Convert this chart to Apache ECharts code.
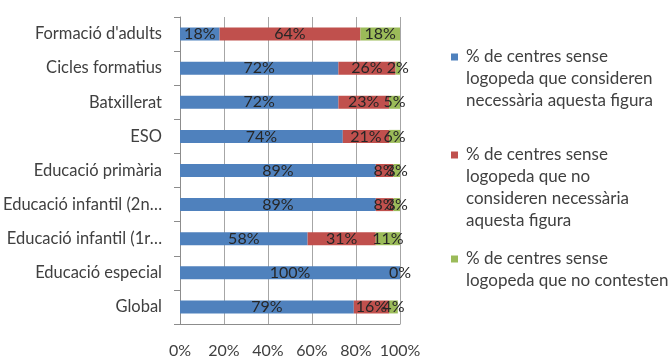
<!DOCTYPE html>
<html>
<head>
<meta charset="utf-8">
<script src="https://cdn.jsdelivr.net/npm/echarts@6/dist/echarts.min.js"></script>
<style>
	html, body { margin: 0; padding: 0; background: #fff; }
	#chart { width: 672px; height: 358px; }
</style>
</head>
<body>
<div id="chart"></div>
<script>
var categories = ["Formació d'adults", "Cicles formatius", "Batxillerat", "ESO", "Educació primària",
	"Educació infantil (2n…", "Educació infantil (1r…", "Educació especial", "Global"];
var seriesNames = ["considera", "noConsidera", "noContesta"];
var legendTexts = [
	"% de centres sense\nlogopeda que consideren\nnecessària aquesta figura",
	"% de centres sense\nlogopeda que no\nconsideren necessària\naquesta figura",
	"% de centres sense\nlogopeda que no contesten"
];
var blueVals = [18, 72, 72, 74, 89, 89, 58, 100, 79];
var redVals = [64, 26, 23, 21, 8, 8, 31, 0, 16];
var greenVals = [18, 2, 5, 6, 3, 3, 11, 0, 4];
var xTicks = [0, 20, 40, 60, 80, 100];

var colors = ["#4f81bd", "#c0504d", "#9bbb59"];
var font = "Lato";
var txt = "#404040";

// legend text is centred on the icon -> put blank lines in front so the icon sits on the first line
function padLines(s) {
	var n = s.split("\n").length;
	var out = s;
	for (var k = 1; k < n; k++) out = " \n" + out;
	return out;
}
var legendTops = [2, 78, 226];

var chart = echarts.init(document.getElementById("chart"));
var vals = [blueVals, redVals, greenVals];

chart.setOption({
	animation: false,
	color: colors,
	grid: { left: 180, right: 272, top: 17, height: 307, containLabel: false, outerBoundsMode: "none" },
	legend: seriesNames.map(function(n, i) {
		return {
			data: [n],
			orient: "vertical",
			left: 451,
			top: legendTops[i],
			padding: 0,
			itemWidth: 7,
			itemHeight: 7,
			itemGap: 8,
			icon: "rect",
			selectedMode: false,
			formatter: function() { return padLines(legendTexts[i]); },
			textStyle: { fontFamily: font, fontSize: 17, color: txt, lineHeight: 22, padding: [0, 0, 0, 3] }
		};
	}),
	xAxis: {
		type: "value",
		min: 0,
		max: 100,
		interval: 20,
		axisLine: { show: true, lineStyle: { color: "#8c8c8c" } },
		axisTick: { show: false },
		splitLine: { show: true, lineStyle: { color: "#a6a6a6" } },
		axisLabel: {
			margin: 19,
			fontFamily: font,
			fontSize: 16,
			color: txt,
			formatter: function(v) { return xTicks.indexOf(v) >= 0 ? v + "%" : ""; }
		}
	},
	yAxis: {
		type: "category",
		inverse: true,
		data: categories,
		axisLine: { show: true, lineStyle: { color: "#8c8c8c" } },
		axisTick: { show: true, length: 6, lineStyle: { color: "#8c8c8c" } },
		axisLabel: { margin: 18, fontFamily: font, fontSize: 16.5, color: txt }
	},
	series: seriesNames.map(function(n, i) {
		return {
			name: n,
			type: "bar",
			stack: "total",
			barWidth: 13,
			data: vals[i],
			label: {
				show: true,
				position: "inside",
				fontFamily: font,
				fontSize: 16,
				color: "#262626",
				formatter: function(p) {
					if (i === 1 && p.value === 0) return "";
					return p.value + "%";
				}
			}
		};
	})
});
</script>
</body>
</html>
